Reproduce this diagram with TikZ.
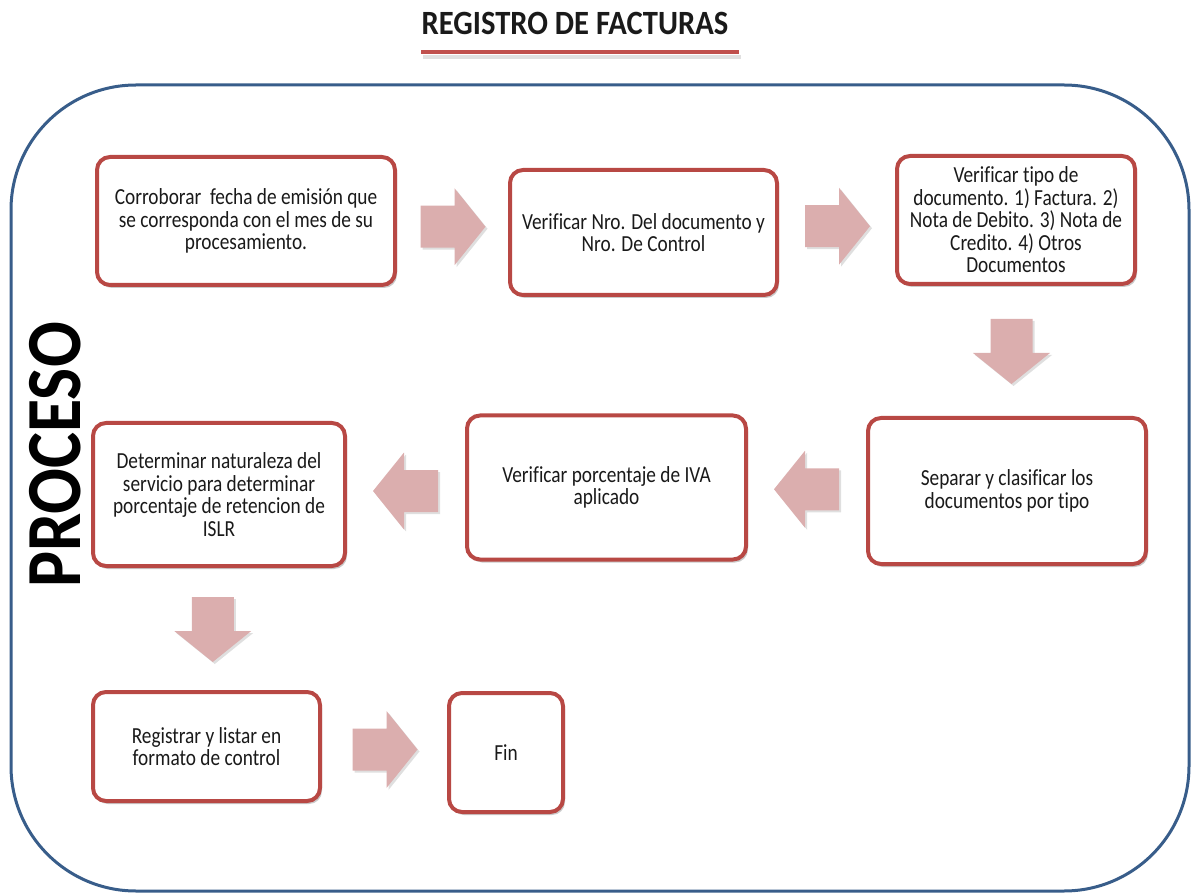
\documentclass[tikz,border=0pt]{standalone}
\usepackage{fontspec}
\setmainfont{Carlito}
\newfontfamily\boxfont[FakeStretch=0.84,Ligatures=NoCommon]{Carlito}
\newfontfamily\titlefont[FakeStretch=0.9,Ligatures=NoCommon]{Carlito}
\newfontfamily\sidefont[FakeStretch=0.87]{Carlito}
\usetikzlibrary{shadows,calc}
\definecolor{boxred}{RGB}{184,72,68}
\definecolor{linered}{RGB}{192,80,77}
\definecolor{arrowfill}{RGB}{219,174,174}
\definecolor{frameblue}{RGB}{56,93,138}
\definecolor{txt}{RGB}{26,26,26}
\tikzset{
  stepbox/.style={draw=boxred, line width=4pt, fill=white, rounded corners=13pt,
    inner sep=0pt, align=center, text=txt,
    font=\boxfont\fontsize{23}{22.5}\selectfont,
    drop shadow={shadow xshift=2pt, shadow yshift=-3pt, opacity=0.35, fill=black!60}},
  blockarrow/.style={fill=arrowfill, draw=none,
    drop shadow={shadow xshift=2pt, shadow yshift=-2pt, opacity=0.25, fill=black!50}},
}
\begin{document}
\begin{tikzpicture}[x=1pt,y=-1pt]
\useasboundingbox (0,0) rectangle (1195,893);
% title
\node[anchor=base, text=txt, font=\titlefont\bfseries\fontsize{34}{36}\selectfont] (title) at (575,35) {REGISTRO DE FACTURAS};
\draw[line width=4pt, black!12] (423,57) -- (741,57);
\draw[line width=3.5pt, linered] (421,52) coordinate (ul1) -- (739,52) coordinate (ul2);
% frame
\draw[frameblue, line width=3pt, rounded corners=125pt] (11,85) rectangle (1189,891);
% side label
\node[rotate=90, anchor=base, text=black, font=\sidefont\bfseries\fontsize{78}{80}\selectfont] (proc) at (80,455) {PROCESO};
% boxes
\node[stepbox, minimum width=298pt, minimum height=128pt] (A) at (246,221)
  {Corroborar\ \ fecha de emisión que\\se corresponda con el mes de su\\procesamiento.};
\node[stepbox, minimum width=267pt, minimum height=125pt] (B) at (643.5,232.5)
  {Verificar Nro. Del documento y\\Nro. De Control};
\node[stepbox, minimum width=238pt, minimum height=128pt] (C) at (1016,220)
  {Verificar tipo de\\documento. 1) Factura. 2)\\Nota de Debito. 3) Nota de\\Credito. 4) Otros\\Documentos};
\node[stepbox, minimum width=278pt, minimum height=146pt] (D) at (1007,491)
  {Separar y clasificar los\\documentos por tipo};
\node[stepbox, minimum width=279pt, minimum height=144pt] (E) at (606.5,487.5)
  {Verificar porcentaje de IVA\\aplicado};
\node[stepbox, minimum width=252pt, minimum height=143pt] (F) at (219,494.5)
  {Determinar naturaleza del\\servicio para determinar\\porcentaje de retencion de\\ISLR};
\node[stepbox, minimum width=227pt, minimum height=109pt] (G) at (206.5,746.5)
  {Registrar y listar en\\formato de control};
\node[stepbox, minimum width=114pt, minimum height=119pt] (H) at (506,752.5)
  {Fin};
% block arrows
\coordinate (a1) at ($(A.east)!0.5!(B.west)$);
\coordinate (a2) at ($(B.east)!0.5!(C.west)$);
\coordinate (a3) at ($(C.south)!0.5!(D.north)$);
\coordinate (a4) at ($(D.west)!0.5!(E.east)$);
\coordinate (a5) at ($(E.west)!0.5!(F.east)$);
\coordinate (a6) at ($(F.south)!0.5!(G.north)$);
\coordinate (a7) at ($(G.east)!0.5!(H.west)$);
\foreach \c/\r in {a1/0, a2/0, a3/-90, a4/180, a5/180, a6/-90, a7/0}{
  \path[blockarrow, shift={(\c)}, rotate=\r]
    (-32,-21) -- (2,-21) -- (2,-38.5) -- (33,0) -- (2,38.5) -- (2,21) -- (-32,21) -- cycle;
}
\end{tikzpicture}
\end{document}
